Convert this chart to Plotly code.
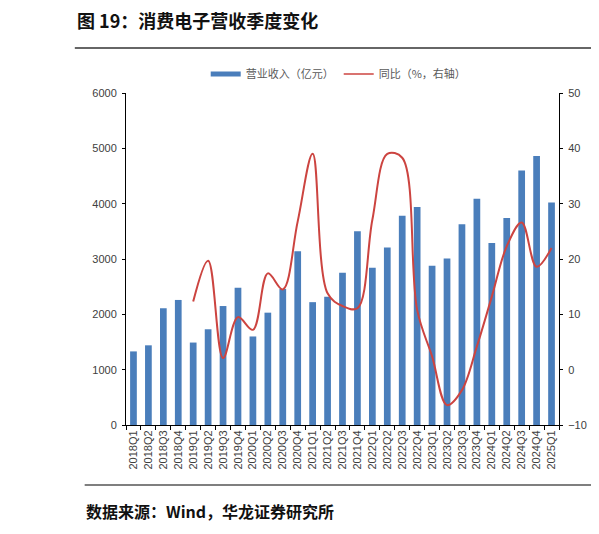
import plotly.graph_objects as go

# the page puts the figure 8px in from the top-left corner,
# so everything below is laid out in screen px minus that offset
OFF = 8
W, H = 599 - OFF, 534 - OFF
L, R, T, B = 126 - OFF, 599 - 566, 93 - OFF, 534 - 425

quarters = ['2018Q1', '2018Q2', '2018Q3', '2018Q4',
            '2019Q1', '2019Q2', '2019Q3', '2019Q4',
            '2020Q1', '2020Q2', '2020Q3', '2020Q4',
            '2021Q1', '2021Q2', '2021Q3', '2021Q4',
            '2022Q1', '2022Q2', '2022Q3', '2022Q4',
            '2023Q1', '2023Q2', '2023Q3', '2023Q4',
            '2024Q1', '2024Q2', '2024Q3', '2024Q4',
            '2025Q1']

revenue = [1330, 1440, 2110, 2260,
           1490, 1730, 2150, 2480,
           1600, 2030, 2460, 3140,
           2220, 2320, 2750, 3500,
           2840, 3210, 3780, 3940,
           2880, 3010, 3630, 4090,
           3290, 3740, 4600, 4860,
           4020]

yoy = [None, None, None, None,
       12.3, 19.7, 2.1, 9.5,
       7.2, 17.4, 14.5, 26.8,
       39.0, 13.8, 11.5, 11.1,
       27.1, 39.0, 38.3, 10.8,
       2.4, -6.4, -3.7, 4.2,
       13.2, 22.3, 26.6, 18.6,
       22.0]

BLUE = '#4A7EBB'
RED = '#CC4440'
CJK = 'Noto Sans CJK SC'
NUM = 'Liberation Sans'


def px_x(x):
    # screen px -> paper fraction
    return (x - OFF - L) / (W - L - R)


def px_y(y):
    return (H - B - (y - OFF)) / (H - T - B)


fig = go.Figure()

fig.add_trace(
    go.Bar(x=quarters,
           y=revenue,
           name='营业收入（亿元）',
           marker=dict(color=BLUE, line=dict(width=0)),
           showlegend=False))

fig.add_trace(
    go.Scatter(x=quarters,
               y=yoy,
               name='同比（%，右轴）',
               mode='lines',
               line=dict(color=RED, width=2, shape='spline', smoothing=1),
               yaxis='y2',
               showlegend=False))

# legend stand-ins (thin wide bar symbol like the source)
fig.add_trace(
    go.Scatter(x=[None], y=[None], mode='lines',
               name='营业收入（亿元）',
               line=dict(color=BLUE, width=5)))
fig.add_trace(
    go.Scatter(x=[None], y=[None], mode='lines',
               name='同比（%，右轴）',
               line=dict(color=RED, width=1.5)))

axis_font = dict(family=NUM, size=11, color='#404040')

yaxis_common = dict(ticks='outside',
                    ticklen=3,
                    tickcolor='#000000',
                    ticklabelstandoff=3,
                    showline=True,
                    linecolor='#000000',
                    linewidth=1,
                    showgrid=False,
                    zeroline=False,
                    tickfont=axis_font)

fig.update_layout(
    width=W,
    height=H,
    margin=dict(l=L, r=R, t=T, b=B, pad=0),
    paper_bgcolor='white',
    plot_bgcolor='white',
    bargap=0.55,
    title=dict(text='<b>图 19：消费电子营收季度变化</b>',
               x=(77 - OFF) / W, xanchor='left',
               y=1 - (22 - OFF) / H, yanchor='middle',
               font=dict(family=CJK, size=18, color='#111111')),
    legend=dict(orientation='h',
                x=px_x(207), xanchor='left',
                y=px_y(74), yanchor='middle',
                entrywidth=88,
                font=dict(family=CJK, size=11, color='#595959'),
                bgcolor='rgba(0,0,0,0)'),
    xaxis=dict(type='category',
               tickangle=-90,
               ticks='outside',
               tickson='boundaries',
               ticklen=4,
               tickcolor='#000000',
               showline=True,
               linecolor='#000000',
               linewidth=1,
               showgrid=False,
               tickfont=axis_font),
    yaxis=dict(range=[0, 6000], dtick=1000, **yaxis_common),
    yaxis2=dict(range=[-10, 50], dtick=10, overlaying='y', side='right',
                **yaxis_common),
)

# rules above and below the chart
fig.add_shape(type='line', xref='paper', yref='paper',
              x0=px_x(74), x1=px_x(600), y0=px_y(48), y1=px_y(48),
              line=dict(color='#333333', width=1.5))
fig.add_shape(type='line', xref='paper', yref='paper',
              x0=px_x(84), x1=px_x(600), y0=px_y(485), y1=px_y(485),
              line=dict(color='#555555', width=1.5))

fig.add_annotation(text='<b>数据来源：Wind，华龙证券研究所</b>',
                   xref='paper', yref='paper',
                   x=px_x(83), y=px_y(511),
                   xanchor='left', yanchor='middle',
                   showarrow=False,
                   font=dict(family=CJK, size=16, color='#111111'))

fig.write_html("out.html")
